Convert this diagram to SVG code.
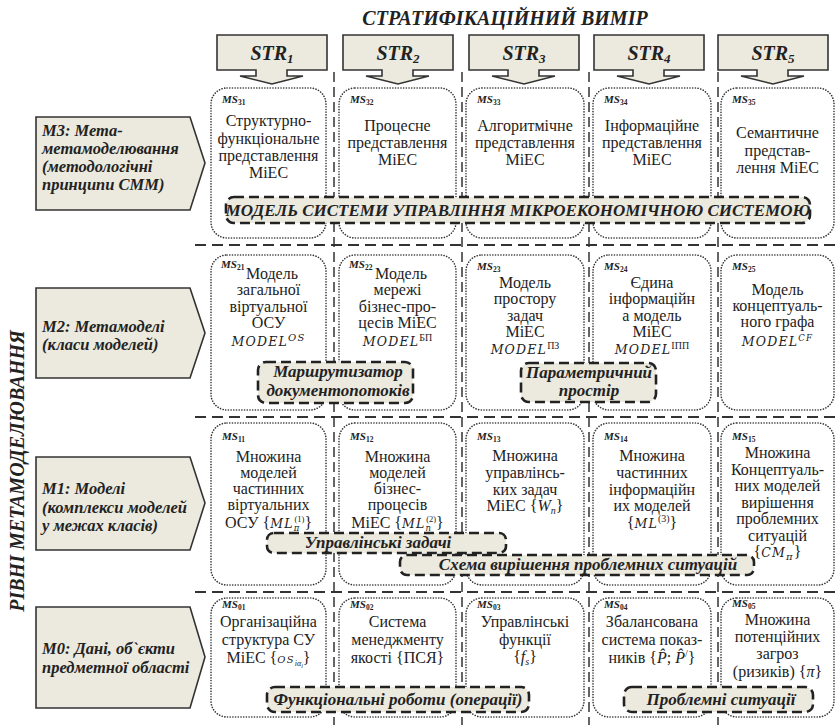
<svg xmlns="http://www.w3.org/2000/svg" width="836" height="725" viewBox="0 0 836 725">
<style>
.box{fill:#fff;stroke:#333;stroke-width:1.6;stroke-dasharray:0.1 2.6;stroke-linecap:round}
.hs{stroke:#333;stroke-width:2;stroke-dasharray:11 6;fill:none}
.vs{stroke:#333;stroke-width:1.5;stroke-dasharray:10 5;fill:none}
.ban{fill:#ECE9DE;stroke:#222;stroke-width:2.6;stroke-dasharray:10 5}
.shp{fill:#ECE9DE;stroke:#333;stroke-width:1.6}
.t{font-family:"Liberation Serif","Times New Roman","DejaVu Serif",serif;font-size:16px;fill:#222;text-anchor:middle}
.bi{font-family:"Liberation Serif","Times New Roman","DejaVu Serif",serif;font-weight:bold;font-style:italic;fill:#222}
.lab{font-size:16.5px}
.bt{font-size:17px;text-anchor:middle}
.ms{font-size:11px}
.sub{font-size:7.5px;font-style:normal}
.mi{font-family:"DejaVu Serif",serif;font-style:italic;font-size:12.5px;letter-spacing:1.2px}
.sm{font-size:10px}
.xs{font-size:8.5px}
.ti{font-style:italic}
</style>

<text class="bi" x="505" y="25" font-size="20" text-anchor="middle">СТРАТИФІКАЦІЙНИЙ ВИМІР</text>
<text class="bi" x="24" y="471" font-size="20" text-anchor="middle" transform="rotate(-90 24 471)">РІВНІ МЕТАМОДЕЛЮВАННЯ</text>

<g id="grid-lines">
<line class="hs" x1="195" y1="245" x2="836" y2="245"/>
<line class="hs" x1="195" y1="417" x2="836" y2="417"/>
<line class="hs" x1="195" y1="592" x2="836" y2="592"/>
<line class="vs" x1="334" y1="72" x2="334" y2="725"/>
<line class="vs" x1="462" y1="72" x2="462" y2="725"/>
<line class="vs" x1="589" y1="72" x2="589" y2="725"/>
<line class="vs" x1="718" y1="72" x2="718" y2="725"/>
</g>

<g id="connectors"></g>

<g id="STR1"><path class="shp" d="M217,35 H327 V70 H287 V76 H303 L272,84 L240,76 H256 V70 H217 Z"/><text class="bi" x="272" y="60" font-size="20" text-anchor="middle">STR<tspan font-size="13" dy="3">1</tspan></text></g>
<g id="STR2"><path class="shp" d="M343,35 H453 V70 H413 V76 H429 L398,84 L366,76 H382 V70 H343 Z"/><text class="bi" x="398" y="60" font-size="20" text-anchor="middle">STR<tspan font-size="13" dy="3">2</tspan></text></g>
<g id="STR3"><path class="shp" d="M469,35 H579 V70 H539 V76 H555 L524,84 L492,76 H508 V70 H469 Z"/><text class="bi" x="524" y="60" font-size="20" text-anchor="middle">STR<tspan font-size="13" dy="3">3</tspan></text></g>
<g id="STR4"><path class="shp" d="M594,35 H704 V70 H664 V76 H680 L649,84 L617,76 H633 V70 H594 Z"/><text class="bi" x="649" y="60" font-size="20" text-anchor="middle">STR<tspan font-size="13" dy="3">4</tspan></text></g>
<g id="STR5"><path class="shp" d="M718,35 H828 V70 H788 V76 H804 L773,84 L741,76 H757 V70 H718 Z"/><text class="bi" x="773" y="60" font-size="20" text-anchor="middle">STR<tspan font-size="13" dy="3">5</tspan></text></g>

<g id="M3"><polygon class="shp" points="36,117 190,117 205,163 190,210 36,210"/>
<text class="bi lab"><tspan x="42" y="136">M3: Мета-</tspan><tspan x="42" y="154">метамоделювання</tspan><tspan x="42" y="172">(методологічні</tspan><tspan x="42" y="190">принципи СММ)</tspan></text></g>
<g id="M2"><polygon class="shp" points="36,288 190,288 205,333 190,378 36,378"/>
<text class="bi lab"><tspan x="42" y="332">M2: Метамоделі</tspan><tspan x="42" y="350">(класи моделей)</tspan></text></g>
<g id="M1"><polygon class="shp" points="36,457 190,457 205,503 190,550 36,550"/>
<text class="bi lab"><tspan x="42" y="494">M1: Моделі</tspan><tspan x="42" y="513">(комплекси моделей</tspan><tspan x="42" y="531">у межах класів)</tspan></text></g>
<g id="M0"><polygon class="shp" points="36,607 190,607 205,657 190,708 36,708"/>
<text class="bi lab"><tspan x="42" y="654">M0: Дані, об`єкти</tspan><tspan x="42" y="673">предметної області</tspan></text></g>

<!-- Row M3 -->
<g id="MS31"><rect class="box" x="211" y="88" width="115" height="150" rx="16"/>
<text class="bi ms" x="222" y="103">MS<tspan class="sub" dy="2">31</tspan></text>
<text class="t"><tspan x="268.5" y="126">Структурно-</tspan><tspan x="268.5" y="144">функціональне</tspan><tspan x="268.5" y="161">представлення</tspan><tspan x="268.5" y="178">MiEC</tspan></text></g>
<g id="MS32"><rect class="box" x="339" y="88" width="117" height="150" rx="16"/>
<text class="bi ms" x="350" y="103">MS<tspan class="sub" dy="2">32</tspan></text>
<text class="t"><tspan x="397.5" y="131">Процесне</tspan><tspan x="397.5" y="148">представлення</tspan><tspan x="397.5" y="165">MiEC</tspan></text></g>
<g id="MS33"><rect class="box" x="466" y="88" width="118" height="150" rx="16"/>
<text class="bi ms" x="477" y="103">MS<tspan class="sub" dy="2">33</tspan></text>
<text class="t"><tspan x="525" y="131">Алгоритмічне</tspan><tspan x="525" y="148">представлення</tspan><tspan x="525" y="165">MiEC</tspan></text></g>
<g id="MS34"><rect class="box" x="593" y="88" width="118" height="150" rx="16"/>
<text class="bi ms" x="604" y="103">MS<tspan class="sub" dy="2">34</tspan></text>
<text class="t"><tspan x="652" y="131">Інформаційне</tspan><tspan x="652" y="148">представлення</tspan><tspan x="652" y="165">MiEC</tspan></text></g>
<g id="MS35"><rect class="box" x="721" y="88" width="113" height="150" rx="16"/>
<text class="bi ms" x="732" y="103">MS<tspan class="sub" dy="2">35</tspan></text>
<text class="t"><tspan x="777.5" y="138">Семантичне</tspan><tspan x="777.5" y="156">представ-</tspan><tspan x="777.5" y="173">лення MiEC</tspan></text></g>

<!-- Row M2 -->
<g id="MS21"><rect class="box" x="211" y="255" width="115" height="155" rx="16"/>
<text class="bi ms" x="221" y="268">MS<tspan class="sub" dy="2">21</tspan></text>
<text class="t"><tspan x="272" y="279">Модель</tspan><tspan x="268.5" y="295">загальної</tspan><tspan x="268.5" y="312">віртуальної</tspan><tspan x="268.5" y="328">ОСУ</tspan><tspan x="268.5" y="346" class="mi">MODEL</tspan><tspan class="mi sm" dy="-5">OS</tspan></text></g>
<g id="MS22"><rect class="box" x="339" y="255" width="117" height="155" rx="16"/>
<text class="bi ms" x="349" y="268">MS<tspan class="sub" dy="2">22</tspan></text>
<text class="t"><tspan x="401" y="279">Модель</tspan><tspan x="397.5" y="295">мережі</tspan><tspan x="397.5" y="312">бізнес-про-</tspan><tspan x="397.5" y="328">цесів MiEC</tspan><tspan x="397.5" y="346" class="mi">MODEL</tspan><tspan class="sm" dy="-5">БП</tspan></text></g>
<g id="MS23"><rect class="box" x="466" y="255" width="118" height="155" rx="16"/>
<text class="bi ms" x="477" y="270">MS<tspan class="sub" dy="2">23</tspan></text>
<text class="t"><tspan x="525" y="288">Модель</tspan><tspan x="525" y="304">простору</tspan><tspan x="525" y="321">задач</tspan><tspan x="525" y="337">MiEC</tspan><tspan x="525" y="354" class="mi">MODEL</tspan><tspan class="sm" dy="-5">ПЗ</tspan></text></g>
<g id="MS24"><rect class="box" x="593" y="255" width="118" height="155" rx="16"/>
<text class="bi ms" x="604" y="270">MS<tspan class="sub" dy="2">24</tspan></text>
<text class="t"><tspan x="652" y="288">Єдина</tspan><tspan x="652" y="304">інформаційн</tspan><tspan x="652" y="321">а модель</tspan><tspan x="652" y="337">MiEC</tspan><tspan x="652" y="354" class="mi">MODEL</tspan><tspan class="sm" dy="-5">ІПП</tspan></text></g>
<g id="MS25"><rect class="box" x="721" y="255" width="113" height="155" rx="16"/>
<text class="bi ms" x="732" y="270">MS<tspan class="sub" dy="2">25</tspan></text>
<text class="t"><tspan x="777.5" y="295">Модель</tspan><tspan x="777.5" y="311">концептуаль-</tspan><tspan x="777.5" y="327">ного графа</tspan><tspan x="777.5" y="346" class="mi">MODEL</tspan><tspan class="mi xs" dy="-5">CF</tspan></text></g>

<!-- Row M1 -->
<g id="MS11"><rect class="box" x="211" y="423" width="115" height="162" rx="16"/>
<text class="bi ms" x="222" y="440">MS<tspan class="sub" dy="2">11</tspan></text>
<text class="t"><tspan x="268.5" y="462">Множина</tspan><tspan x="268.5" y="478">моделей</tspan><tspan x="268.5" y="494">частинних</tspan><tspan x="268.5" y="510">віртуальних</tspan><tspan x="268.5" y="528">ОСУ {</tspan><tspan class="mi">ML</tspan><tspan class="mi xs" dy="3">π</tspan><tspan class="xs" dx="-6" dy="-9">(1)</tspan><tspan dy="6">}</tspan></text></g>
<g id="MS12"><rect class="box" x="339" y="423" width="117" height="162" rx="16"/>
<text class="bi ms" x="350" y="440">MS<tspan class="sub" dy="2">12</tspan></text>
<text class="t"><tspan x="397.5" y="462">Множина</tspan><tspan x="397.5" y="478">моделей</tspan><tspan x="397.5" y="494">бізнес-</tspan><tspan x="397.5" y="510">процесів</tspan><tspan x="397.5" y="528">MiEC {</tspan><tspan class="mi">ML</tspan><tspan class="mi xs" dy="3">n</tspan><tspan class="xs" dx="-6" dy="-9">(2)</tspan><tspan dy="6">}</tspan></text></g>
<g id="MS13"><rect class="box" x="466" y="423" width="118" height="162" rx="16"/>
<text class="bi ms" x="477" y="440">MS<tspan class="sub" dy="2">13</tspan></text>
<text class="t"><tspan x="525" y="461">Множина</tspan><tspan x="525" y="478">управлінсь-</tspan><tspan x="525" y="495">ких задач</tspan><tspan x="525" y="511">MiEC {</tspan><tspan class="ti">W</tspan><tspan class="ti sm" dy="3">n</tspan><tspan dy="-3">}</tspan></text></g>
<g id="MS14"><rect class="box" x="593" y="423" width="118" height="162" rx="16"/>
<text class="bi ms" x="604" y="440">MS<tspan class="sub" dy="2">14</tspan></text>
<text class="t"><tspan x="652" y="461">Множина</tspan><tspan x="652" y="478">частинних</tspan><tspan x="652" y="495">інформаційн</tspan><tspan x="652" y="511">их моделей</tspan><tspan x="652" y="528">{</tspan><tspan class="mi">ML</tspan><tspan class="sm" dy="-6">(3)</tspan><tspan dy="6">}</tspan></text></g>
<g id="MS15"><rect class="box" x="721" y="423" width="113" height="162" rx="16"/>
<text class="bi ms" x="732" y="440">MS<tspan class="sub" dy="2">15</tspan></text>
<text class="t"><tspan x="777.5" y="458">Множина</tspan><tspan x="777.5" y="475">Концептуаль-</tspan><tspan x="777.5" y="491">них моделей</tspan><tspan x="777.5" y="508">вирішення</tspan><tspan x="777.5" y="524">проблемних</tspan><tspan x="777.5" y="541">ситуацій</tspan><tspan x="777.5" y="557">{</tspan><tspan class="mi">CM</tspan><tspan class="mi sm" dy="3">π</tspan><tspan dy="-3">}</tspan></text></g>

<!-- Row M0 -->
<g id="MS01"><rect class="box" x="211" y="598" width="115" height="119" rx="16"/>
<text class="bi ms" x="222" y="608">MS<tspan class="sub" dy="2">01</tspan></text>
<text class="t"><tspan x="268.5" y="627">Організаційна</tspan><tspan x="268.5" y="645">структура СУ</tspan><tspan x="268.5" y="663">MiEC {</tspan><tspan class="mi sm">OS</tspan><tspan class="ti" font-size="8" dy="3">iα</tspan><tspan class="ti" font-size="6" dy="2">i</tspan><tspan dy="-5">}</tspan></text></g>
<g id="MS02"><rect class="box" x="339" y="598" width="117" height="119" rx="16"/>
<text class="bi ms" x="350" y="608">MS<tspan class="sub" dy="2">02</tspan></text>
<text class="t"><tspan x="397.5" y="627">Система</tspan><tspan x="397.5" y="645">менеджменту</tspan><tspan x="397.5" y="663">якості {ПСЯ}</tspan></text></g>
<g id="MS03"><rect class="box" x="466" y="598" width="118" height="119" rx="16"/>
<text class="bi ms" x="477" y="608">MS<tspan class="sub" dy="2">03</tspan></text>
<text class="t"><tspan x="525" y="627">Управлінські</tspan><tspan x="525" y="645">функції</tspan><tspan x="525" y="662">{</tspan><tspan class="ti">f</tspan><tspan class="ti sm" dy="3">s</tspan><tspan dy="-3">}</tspan></text></g>
<g id="MS04"><rect class="box" x="593" y="598" width="118" height="119" rx="16"/>
<text class="bi ms" x="604" y="608">MS<tspan class="sub" dy="2">04</tspan></text>
<text class="t"><tspan x="652" y="627">Збалансована</tspan><tspan x="652" y="645">система показ-</tspan><tspan x="652" y="663">ників {</tspan><tspan class="ti">P̂</tspan><tspan>; </tspan><tspan class="ti">P̂</tspan><tspan class="sm" dy="-6">/</tspan><tspan dy="6">}</tspan></text></g>
<g id="MS05"><rect class="box" x="721" y="598" width="113" height="119" rx="16"/>
<text class="bi ms" x="732" y="607">MS<tspan class="sub" dy="2">05</tspan></text>
<text class="t"><tspan x="777.5" y="625">Множина</tspan><tspan x="777.5" y="642">потенційних</tspan><tspan x="777.5" y="659">загроз</tspan><tspan x="777.5" y="677">(ризиків) {</tspan><tspan class="ti">π</tspan><tspan>}</tspan></text></g>

<!-- Banners -->
<g id="B-model"><rect class="ban" x="226" y="197" width="584" height="26" rx="8"/>
<text class="bi bt" x="518" y="216" font-size="17">МОДЕЛЬ СИСТЕМИ УПРАВЛІННЯ МІКРОЕКОНОМІЧНОЮ СИСТЕМОЮ</text></g>
<g id="B-router"><rect class="ban" x="258" y="362" width="155" height="41" rx="8"/>
<text class="bi bt"><tspan x="338" y="377">Маршрутизатор</tspan><tspan x="338" y="396">документопотоків</tspan></text></g>
<g id="B-param"><rect class="ban" x="521" y="363" width="135" height="39" rx="8"/>
<text class="bi bt"><tspan x="589" y="378">Параметричний</tspan><tspan x="589" y="396">простір</tspan></text></g>
<g id="B-tasks"><rect class="ban" x="267" y="533" width="239" height="20" rx="7"/>
<text class="bi bt" x="378" y="548" font-size="16">Управлінські задачі</text></g>
<g id="B-scheme"><rect class="ban" x="400" y="555" width="354" height="20" rx="7"/>
<text class="bi bt" x="588" y="570">Схема вирішення проблемних ситуацій</text></g>
<g id="B-func"><rect class="ban" x="267" y="687" width="262" height="25" rx="8"/>
<text class="bi bt" x="398" y="705" font-size="16.5">Функціональні роботи (операції)</text></g>
<g id="B-prob"><rect class="ban" x="624" y="687" width="189" height="25" rx="8"/>
<text class="bi bt" x="721" y="705">Проблемні ситуації</text></g>
</svg>
